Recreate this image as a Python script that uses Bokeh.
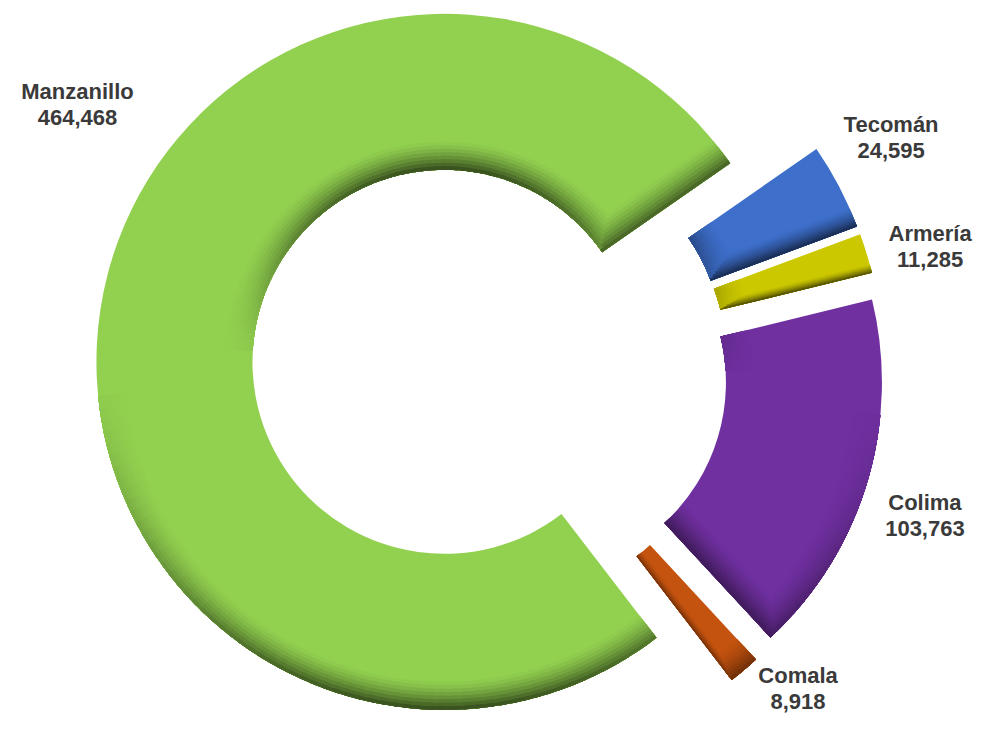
import math
from bokeh.plotting import figure
from bokeh.models import Range1d, ColumnDataSource
from bokeh.embed import file_html
from bokeh.resources import INLINE
from bokeh.core.properties import value

# ---------------- data ----------------
names = ["Tecomán", "Armería", "Colima", "Comala", "Manzanillo"]
values = [24595, 11285, 103763, 8918, 464468]
colors = ["#3E6FCB", "#CCC800", "#7030A0", "#C4530F", "#92D050"]

# ---------------- layout / style ----------------
PAGE_W, PAGE_H = 993, 739
MARGIN = 8
FIG_W, FIG_H = PAGE_W - 2 * MARGIN, PAGE_H - 2 * MARGIN
CX, CY = 489.4, PAGE_H - 368.4
R_OUT, R_IN = 348.0, 192.0
EXPLODE = 46.0
START_DEG = 34.8
LABEL_DIST = [417, 411, 413, 398, 448]
LABEL_DIR = [30.2, 15.4, -18.8, -45.6, 145.0]
LINE_GAP = 26
TEXT_COLOR = "#3a3a3a"

K = 8          # shading layers
STEP = 3.5     # px per layer
MAXD = 0.6     # max darkening
SEG = 2.0      # degrees per shading segment
OVER = 0.5     # overlap between segments (deg)


def rad(d):
    return math.radians(d)


def rgb(h):
    return tuple(int(h[i:i + 2], 16) for i in (1, 3, 5))


def dark(h, f):
    r, g, b = rgb(h)
    return "#%02x%02x%02x" % (int(r * f), int(g * f), int(b * f))


total = float(sum(values))
slices = []
cum = 0.0
for name, v, c, ld, la in zip(names, values, colors, LABEL_DIST, LABEL_DIR):
    frac = v / total
    hi = START_DEG - cum * 360.0
    lo = hi - frac * 360.0
    cum += frac
    mid = (hi + lo) / 2.0
    sx = CX + EXPLODE * math.cos(rad(mid))
    sy = CY + EXPLODE * math.sin(rad(mid))
    lx = sx + ld * math.cos(rad(la))
    ly = sy + ld * math.sin(rad(la))
    slices.append(dict(name=name, value=v, color=c, lo=lo, hi=hi, sx=sx, sy=sy, lx=lx, ly=ly))

p = figure(width=FIG_W, height=FIG_H,
           x_range=Range1d(0, FIG_W),
           y_range=Range1d(PAGE_H - FIG_H, PAGE_H),
           output_backend="svg", toolbar_location=None,
           x_axis_location=None, y_axis_location=None,
           min_border=0, outline_line_color=None,
           background_fill_color="white", border_fill_color="white")
p.grid.visible = False

base = ColumnDataSource(dict(
    x=[s["sx"] for s in slices], y=[s["sy"] for s in slices],
    a0=[rad(s["lo"]) for s in slices], a1=[rad(s["hi"]) for s in slices],
    color=[s["color"] for s in slices]))
p.annular_wedge(x="x", y="y", inner_radius=R_IN, outer_radius=R_OUT,
                start_angle="a0", end_angle="a1", fill_color="color",
                line_color=None, source=base)

# ---- bevel-like shading derived from each slice's geometry ----
arc_layers = [dict(x=[], y=[], ri=[], ro=[], a0=[], a1=[], color=[]) for _ in range(K)]
end_layers = [dict(xs=[], ys=[], color=[]) for _ in range(K)]

for s in slices:
    span = s["hi"] - s["lo"]
    n = max(1, int(math.ceil(span / SEG)))
    for j in range(n):
        t0 = s["lo"] + span * j / n
        t1 = s["lo"] + span * (j + 1) / n
        tm = rad((t0 + t1) / 2.0)
        e0 = max(s["lo"], t0 - OVER)
        e1 = min(s["hi"], t1 + OVER)
        d_out = max(0.0, -math.sin(tm)) ** 1.6
        d_in = max(0.0, math.sin(tm)) ** 1.2
        for k in range(K):
            w = (K - k) * STEP
            g = ((k + 1) / K) ** 1.5
            for d, ri, ro in ((d_out, R_OUT - w, R_OUT), (d_in, R_IN, R_IN + w)):
                if d < 0.03:
                    continue
                L = arc_layers[k]
                L["x"].append(s["sx"]); L["y"].append(s["sy"])
                L["ri"].append(ri); L["ro"].append(ro)
                L["a0"].append(rad(e0)); L["a1"].append(rad(e1))
                L["color"].append(dark(s["color"], 1 - MAXD * d * g))

    arc_in = rad(span) * R_IN
    wmax = min(K * STEP, 0.4 * arc_in)
    for a, nd, sgn in ((s["lo"], s["lo"] - 90.0, 1.0), (s["hi"], s["hi"] + 90.0, -1.0)):
        d = max(0.0, -math.sin(rad(nd)))
        if d < 0.03:
            continue
        nx, ny = math.cos(rad(nd)), math.sin(rad(nd))
        ca, sa = math.cos(rad(a)), math.sin(rad(a))
        for k in range(K):
            w = wmax * (K - k) / K
            g = ((k + 1) / K) ** 1.5
            p1x, p1y = s["sx"] + R_IN * ca, s["sy"] + R_IN * sa
            p2x, p2y = s["sx"] + R_OUT * ca, s["sy"] + R_OUT * sa
            ao = rad(a + sgn * math.degrees(w / R_OUT))
            p3x, p3y = s["sx"] + R_OUT * math.cos(ao), s["sy"] + R_OUT * math.sin(ao)
            p4x, p4y = p1x - w * nx, p1y - w * ny
            L = end_layers[k]
            L["xs"].append([p1x, p2x, p3x, p4x])
            L["ys"].append([p1y, p2y, p3y, p4y])
            L["color"].append(dark(s["color"], 1 - MAXD * d * g))

for k in range(K):
    if arc_layers[k]["x"]:
        p.annular_wedge(x="x", y="y", inner_radius="ri", outer_radius="ro",
                        start_angle="a0", end_angle="a1", fill_color="color",
                        line_color=None, source=ColumnDataSource(arc_layers[k]))
    if end_layers[k]["xs"]:
        p.patches(xs="xs", ys="ys", fill_color="color", line_color=None,
                  source=ColumnDataSource(end_layers[k]))

# ---- labels ----
lab = ColumnDataSource(dict(
    x=[s["lx"] for s in slices],
    y1=[s["ly"] + LINE_GAP / 2.0 for s in slices],
    y2=[s["ly"] - LINE_GAP / 2.0 for s in slices],
    name=[s["name"] for s in slices],
    val=[f"{s['value']:,}" for s in slices]))
for ycol, tcol in (("y1", "name"), ("y2", "val")):
    p.text(x="x", y=ycol, text=tcol, source=lab,
           text_font=value("Liberation Sans"), text_font_style="bold",
           text_font_size="22px", text_color=TEXT_COLOR,
           text_align="center", text_baseline="middle")

open("out.html", "w").write(file_html(p, INLINE))
